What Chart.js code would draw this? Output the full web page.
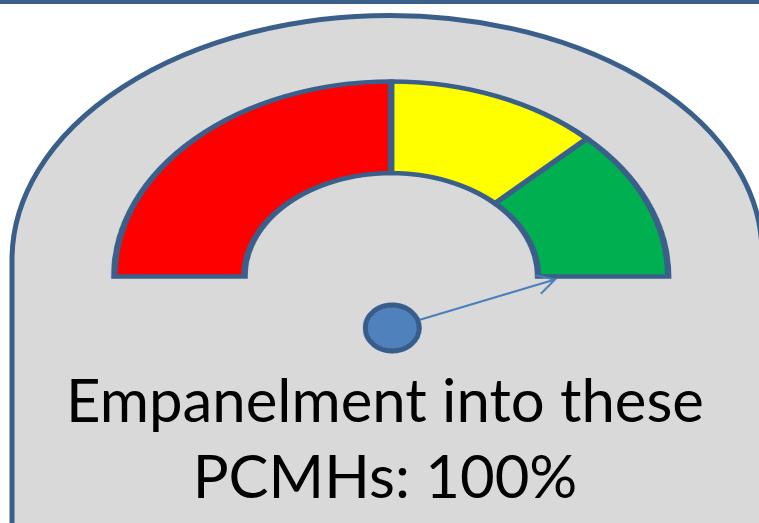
<!DOCTYPE html>
<html>
<head>
<meta charset="utf-8">
<script src="https://cdn.jsdelivr.net/npm/chart.js@4/dist/chart.umd.min.js"></script>
<style>
  html, body { margin: 0; padding: 0; background: #fff; width: 759px; height: 523px; overflow: hidden; }
  #bg { position: absolute; left: 0; top: 0; }
  /* the gauge is drawn round and stretched sideways, like the slide */
  #gauge { position: absolute; left: 93px; top: 60px; width: 420px; height: 310px;
           transform: scaleX(1.42); transform-origin: 0 0; }
  text { font-family: Lato, "Open Sans", sans-serif; fill: #000; }
</style>
</head>
<body>
<svg id="bg" width="759" height="523">
  <rect x="0" y="0" width="759" height="4" fill="#3a5f8b"/>
  <path d="M12,530 L12,260 A378,244.5 0 0 1 390,15.5 A372,237.5 0 0 1 762,253 L762,530"
        fill="#d9d9d9" stroke="#3a5f8b" stroke-width="5"/>
  <text id="line1" x="385" y="422" text-anchor="middle" font-size="56">Empanelment into these</text>
  <text id="line2" x="385" y="498" text-anchor="middle" font-size="56">PCMHs: 100%</text>
</svg>
<div id="gauge"><canvas id="myChart"></canvas></div>

<script>
const zones = ['Low', 'Medium', 'High'];
const zoneValues = [50, 25, 25];
const zoneColors = ['#ff0000', '#ffff00', '#00b050'];
const needleValue = [100];   // percent

const STRETCH = 1.42;

// fit the caption to the slide width
const line1 = document.getElementById('line1');
const line2 = document.getElementById('line2');
const size = 56 * 638 / line1.getComputedTextLength();
line1.setAttribute('font-size', size);
line2.setAttribute('font-size', size);

const needlePlugin = {
  id: 'needle',
  afterDraw(chart) {
    const arc = chart.getDatasetMeta(0).data[0];
    const ctx = chart.ctx;
    const angle = Math.PI + Math.PI * needleValue[0] / 100;
    const reach = arc.innerRadius + 12;
    // work in unstretched units so the hub stays round
    const cx = arc.x * STRETCH;
    const cy = arc.y;
    const tipX = cx + Math.cos(angle) * reach * STRETCH;
    const tipY = cy + Math.sin(angle) * reach + 3;
    const hubX = cx + 1;
    const hubY = cy + 51.5;

    ctx.save();
    ctx.scale(1 / STRETCH, 1);

    ctx.strokeStyle = '#4a7ebb';
    ctx.lineWidth = 2;
    ctx.beginPath();
    ctx.moveTo(hubX, hubY);
    ctx.lineTo(tipX, tipY);
    const dir = Math.atan2(tipY - hubY, tipX - hubX);
    ctx.moveTo(tipX + Math.cos(dir + Math.PI - 0.5) * 20, tipY + Math.sin(dir + Math.PI - 0.5) * 20);
    ctx.lineTo(tipX, tipY);
    ctx.lineTo(tipX + Math.cos(dir + Math.PI + 0.5) * 20, tipY + Math.sin(dir + Math.PI + 0.5) * 20);
    ctx.stroke();

    ctx.beginPath();
    ctx.ellipse(hubX, hubY, 27, 23, 0, 0, Math.PI * 2);
    ctx.fillStyle = '#4f81bd';
    ctx.fill();
    ctx.lineWidth = 5;
    ctx.strokeStyle = '#385d8a';
    ctx.stroke();
    ctx.restore();
  }
};

const config = {
  type: 'doughnut',
  data: {
    labels: zones,
    datasets: [{
      data: zoneValues,
      backgroundColor: zoneColors,
      borderColor: '#3a5f8b',
      borderWidth: 4.5,
      borderJoinStyle: 'miter'
    }]
  },
  options: {
    responsive: true,
    maintainAspectRatio: false,
    devicePixelRatio: 2,
    animation: false,
    events: [],
    rotation: -90,
    circumference: 180,
    radius: 195,
    cutout: '53%',
    layout: { padding: { top: 0, bottom: 72, left: 0, right: 0 } },
    plugins: {
      legend: { display: false },
      tooltip: { enabled: false }
    }
  },
  plugins: [needlePlugin]
};

new Chart(document.getElementById('myChart'), config);
</script>
</body>
</html>
